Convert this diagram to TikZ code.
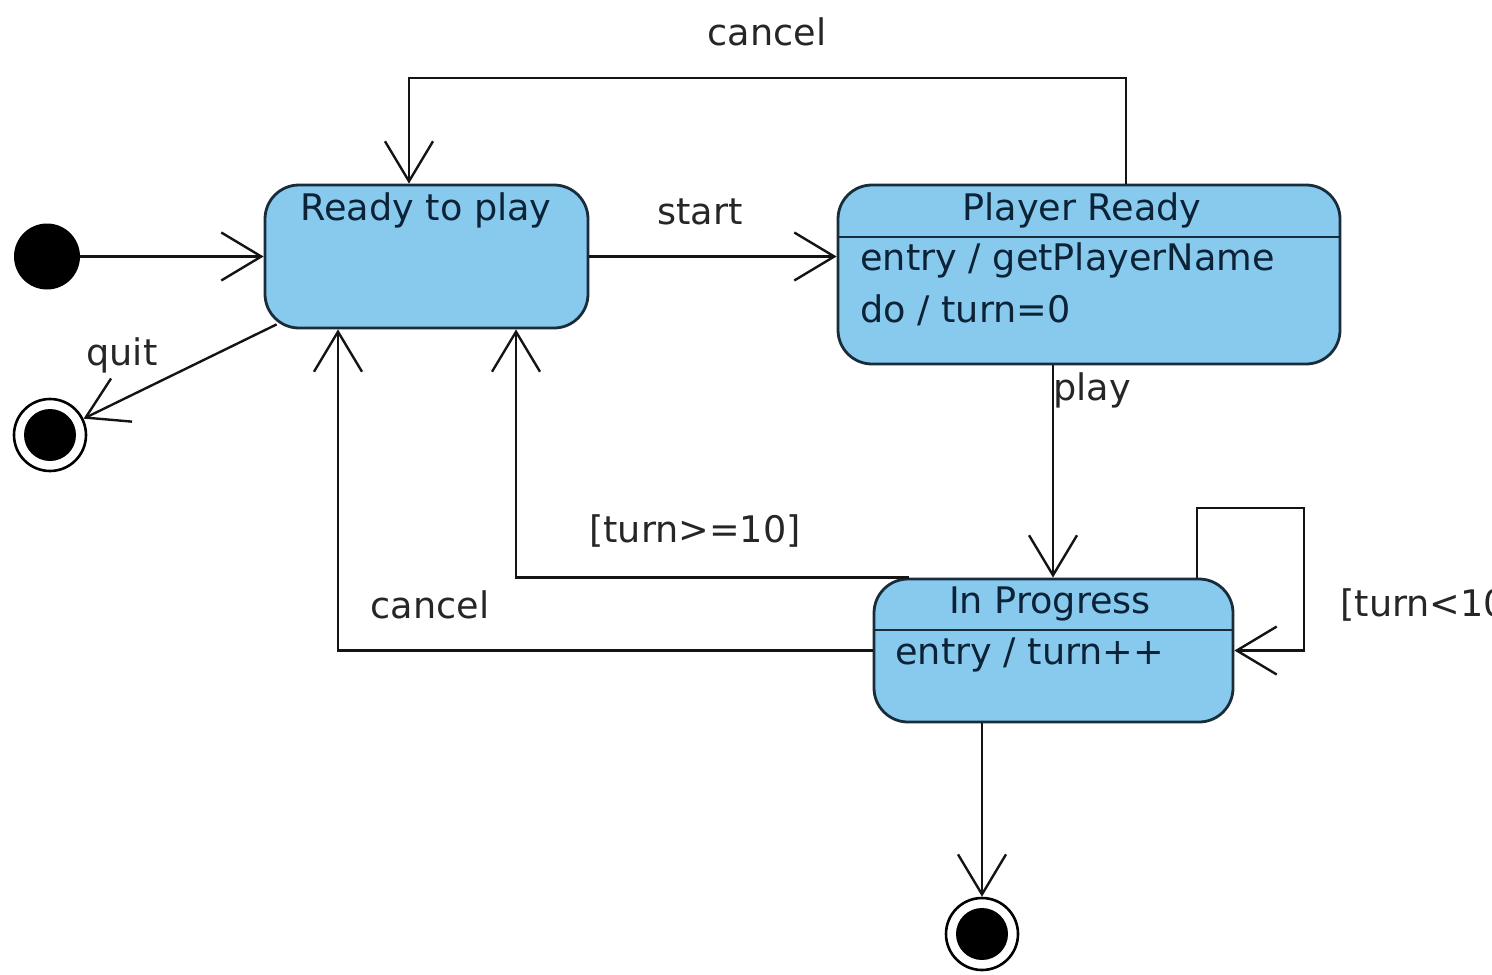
\documentclass[tikz,border=0pt]{standalone}
\usepackage{fontspec}
\setmainfont{DejaVu Sans}
\usetikzlibrary{arrows.meta}
\definecolor{statefill}{RGB}{135,202,238}
\definecolor{stateline}{RGB}{24,44,58}
\definecolor{statetext}{RGB}{12,34,54}
\definecolor{edgeline}{RGB}{20,20,20}
\tikzset{
  x=0.5pt, y=-0.5pt,
  every node/.style={font=\fontsize{18.3}{22}\selectfont, inner sep=0pt},
  statebox/.style={draw=stateline, fill=statefill, line width=1.4pt,
    rounded corners=17pt, rectangle},
  divider/.style={draw=stateline, line width=1.4pt},
  boxtext/.style={text=statetext},
  lbl/.style={text=black!85},
  tr/.style={draw=edgeline, line width=1.2pt,
    -{Straight Barb[length=20pt,width=24pt]}},
  initial/.style={circle, fill=black, minimum size=33pt},
  final/.style={circle, draw=black, line width=1.3pt, fill=white,
    minimum size=36pt, path picture={\fill[black] (path picture bounding box.center) circle (13pt);}},
}
\begin{document}
\begin{tikzpicture}
\useasboundingbox (0,0) rectangle (1492,974);
\clip (0,0) rectangle (1492,974);

% states
\node[statebox, minimum width=161.5pt, minimum height=71.5pt] (ready) at (426.5,256.5) {};
\node[statebox, minimum width=251pt, minimum height=89.5pt] (pr) at (1089,274.5) {};
\node[statebox, minimum width=179.5pt, minimum height=71.5pt] (ip) at (1053.5,650.5) {};

% compartments
\draw[divider] (pr.west |- 0,237) -- (pr.east |- 0,237);
\draw[divider] (ip.west |- 0,630) -- (ip.east |- 0,630);

% state texts
\node[boxtext] (readyname) at (426,210) {Ready to play};
\node[boxtext] (prname) at (1082,210) {Player Ready};
\node[boxtext, anchor=west] (prentry) at (860,260) {entry / getPlayerName};
\node[boxtext, anchor=west] (prdo) at (860,310) {do / turn=0};
\node[boxtext] (ipname) at (1050,604) {In Progress};
\node[boxtext, anchor=west] (ipentry) at (895,655) {entry / turn++};

% pseudo states
\node[initial] (init) at (47,256.5) {};
\node[final] (fq) at (50,435) {};
\node[final] (fe) at (982,934) {};

% transitions
\draw[tr] (init) -- (ready.west);
\draw[tr] (ready.east) -- (pr.west |- ready.east);
\draw[tr] (pr.north -| 1126,0) -- (1126,78) -- (409,78) -- (ready.north -| 409,0);
\draw[tr] ([shift={(13,-5)}]ready.south west) -- (fq);
\draw[tr] (pr.south -| 1053,0) -- (ip.north -| 1053,0);
\draw[tr] (ip.north -| 909,0) -| (ready.south -| 516,0);
\draw[tr] (ip.west) -| (ready.south -| 338,0);
\draw[tr] (ip.north -| 1197,0) -- (1197,508) -- (1304,508) -- (ip.east -| 1304,0) -- (ip.east);
\draw[tr] (ip.south -| 982,0) -- (fe);

% transition labels
\node[lbl] (lcancel1) at (767,32) {cancel};
\node[lbl] (lstart) at (700,212) {start};
\node[lbl] (lquit) at (122,355) {quit};
\node[lbl, anchor=west] (lplay) at (1053,390) {play};
\node[lbl] (lge) at (695,531) {[turn>=10]};
\node[lbl] (lcancel2) at (430,605) {cancel};
\node[lbl, anchor=west] (llt) at (1340,605) {[turn<10]};
\end{tikzpicture}
\end{document}
